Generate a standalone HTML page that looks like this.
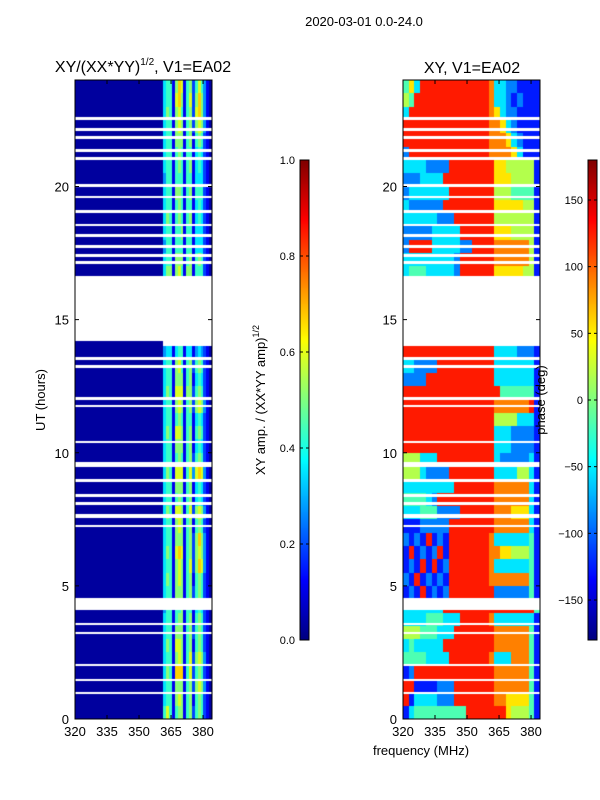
<!DOCTYPE html>
<html><head><meta charset="utf-8">
<style>
body{margin:0;background:#fff;}
#wrap{position:relative;width:600px;height:800px;overflow:hidden;font-family:"Liberation Sans",sans-serif;}
canvas{position:absolute;left:0;top:0;}
svg{position:absolute;left:0;top:0;}
text{font-family:"Liberation Sans",sans-serif;fill:#000;}
</style></head>
<body>
<div id="wrap">
<canvas id="cv" width="600" height="800"></canvas>
<svg id="sv" width="600" height="800"></svg>
</div>
<script>
// ---- data ----
const freqMin = 320, freqMax = 384.2, nAmpCols = 48, ampBrightStart = 31;
const xTicks = [320, 335, 350, 365, 380];
const yTicks = [0, 5, 10, 15, 20];
const ampTicks = [0.0, 0.2, 0.4, 0.6, 0.8, 1.0];
const phaseTicks = [-150, -100, -50, 0, 50, 100, 150];
// amplitude rows, UT 24 -> 0 in half-hour steps, columns 31..47 (digit d -> d*0.08+0.03), '-' = flagged
const ampRows = [
"45516871562575310","45517861572686310","46516751562786310","45516761562676310",
"45516661561565210","45515651551454210","45515651561454210","35515551551444210",
"45516651561555210","45515651551454210","46515651561454210","45515561551444210",
"35515551551444210","45516661561565210","46616751661555210","-----------------",
"-----------------","-----------------","-----------------","-----------------",
"34414551441343210","45516751562565210","45516661561454210","46517771662565210",
"45516761562676310","45515651551454210","46517761561565210","45516661561454210",
"45515651562565210","46517771573787310","45516661561454210","45515651561454210",
"46517761572676310","45516761561565210","45516661562686310","46517871562676310",
"45516761572687310","46516761561565210","45516661562565210","35515561551454210",
"45515661561565210","45516661562565210","46517761561565210","45516761572676310",
"46518881572565210","45516661562676310","45516761561565210","57515661562565210"
];
// phase rows, UT 24 -> 0, 24 columns (digit d -> -162+36d deg), '-' = flagged
const phaseRows = [
"463888888888888733221111","548888888888888733212111","388888888888888763221111","888888888888888776321111",
"888888888888888777632111","288888888888888777763111","333322228888888866555551","222333388888888866655551",
"233333338888888855544441","322222288888888866666551","333333222888888855555551","222223333388888866655551",
"288883333322888877777751","333333333288888877777751","344433333288888866666551","------------------------",
"------------------------","------------------------","------------------------","------------------------",
"888888888888888833332221","332222888888888833333331","222288888888888833333331","888888888888888884444441",
"888888888888888877777781","888888888888888855553331","888888888888888833322221","888888888888888833322221",
"555333888888888832222231","555322228888888833335531","333333333888888877777731","444432888888888877777731",
"333444222288888877766631","111222228888888877777731","212181218888888733333341","181212818888888776655541",
"121818128888888733333341","218121218888888777777741","121812128888888822222241","333333388888888888888884",
"333344433388888733333331","555444333888888877777741","343333388888888877777741","444433338888888733377741",
"128888888888888877777741","881111222888888877777741","813333222888888877666641","134444444448888888655541"
];
// flagged (white) time intervals [start, end] in hours UT
const flagStart = [22.5,22.1,21.8,21.3,21.0,20.0,19.55,19.0,18.5,18.1,17.7,17.35,17.1,14.2,13.5,13.2,12.0,11.7,10.35,9.45,8.9,8.35,8.05,7.55,7.2,4.1,3.55,3.2,2.0,1.45,0.95];
const flagEnd   = [22.6,22.2,21.9,21.4,21.1,20.1,19.65,19.1,18.6,18.2,17.8,17.45,17.2,16.65,13.6,13.3,12.1,11.8,10.45,9.65,9.0,8.45,8.15,7.7,7.3,4.55,3.62,3.27,2.07,1.52,1.02];

// ---- geometry ----
const yTop = 80, yBot = 719;
const L = {x0:75, x1:212}, R = {x0:403, x1:540};
function yT(t){ return yBot - t/24*(yBot-yTop); }
function xF(p,f){ return p.x0 + (f-freqMin)/(freqMax-freqMin)*(p.x1-p.x0); }
function jet(v){ v=Math.max(0,Math.min(1,v)); const c=x=>Math.round(255*Math.max(0,Math.min(1,x)));
  return `rgb(${c(1.5-Math.abs(4*v-3))},${c(1.5-Math.abs(4*v-2))},${c(1.5-Math.abs(4*v-1))})`; }

const cv = document.getElementById('cv'), ctx = cv.getContext('2d');
const nRows = ampRows.length, dt = 24/nRows;
// amplitude heatmap
const dfA = (freqMax-freqMin)/nAmpCols;
for(let r=0;r<nRows;r++){
  const t1 = 24 - r*dt, t0 = t1-dt;
  for(let c=0;c<nAmpCols;c++){
    let ch = c<ampBrightStart ? '0' : ampRows[r][c-ampBrightStart];
    if(ch==='-') continue;
    const v = (+ch)*0.08+0.03;
    ctx.fillStyle = jet(v);
    const xa = Math.round(xF(L,freqMin+c*dfA)), xb = Math.round(xF(L,freqMin+(c+1)*dfA));
    ctx.fillRect(xa, Math.round(yT(t1)), xb-xa, Math.round(yT(t0))-Math.round(yT(t1)));
  }
}
// phase heatmap
const nPh = phaseRows[0].length, dfP = (freqMax-freqMin)/nPh;
for(let r=0;r<nRows;r++){
  const t1 = 24 - r*dt, t0 = t1-dt;
  for(let c=0;c<nPh;c++){
    const ch = phaseRows[r][c]; if(ch==='-') continue;
    const ph = -162 + 36*(+ch);
    ctx.fillStyle = jet((ph+180)/360);
    const xa = Math.round(xF(R,freqMin+c*dfP)), xb = Math.round(xF(R,freqMin+(c+1)*dfP));
    ctx.fillRect(xa, Math.round(yT(t1)), xb-xa, Math.round(yT(t0))-Math.round(yT(t1)));
  }
}
// flags
ctx.fillStyle='#fff';
for(let i=0;i<flagStart.length;i++){
  const ya = Math.round(yT(flagEnd[i])), yb = Math.round(yT(flagStart[i]));
  const h = Math.max(2, yb-ya);
  ctx.fillRect(L.x0, ya, L.x1-L.x0, h);
  ctx.fillRect(R.x0, ya, R.x1-R.x0, h);
}
// colorbars
const cb1 = {x:300,w:9,y0:160,y1:640}, cb2 = {x:588,w:9,y0:160,y1:640};
for(let y=cb1.y0;y<cb1.y1;y++){
  const v = (cb1.y1-y-0.5)/(cb1.y1-cb1.y0);
  ctx.fillStyle = jet(v); ctx.fillRect(cb1.x,y,cb1.w,1);
  ctx.fillStyle = jet(v); ctx.fillRect(cb2.x,y,cb2.w,1);
}

// ---- SVG overlay ----
const sv = document.getElementById('sv'), NS='http://www.w3.org/2000/svg';
function el(tag, attrs, txt){ const e=document.createElementNS(NS,tag); for(const k in attrs) e.setAttribute(k,attrs[k]); if(txt!==undefined) e.textContent=txt; sv.appendChild(e); return e; }

for(const p of [L,R]){
  const fr = el('rect',{x:p.x0,y:yTop,width:p.x1-p.x0,height:yBot-yTop,fill:'none',stroke:'#000','stroke-width':1});
  
  
  for(const f of xTicks){
    const x = xF(p,f);
    el('line',{x1:x,x2:x,y1:yBot,y2:yBot-4,stroke:'#000'});
    el('line',{x1:x,x2:x,y1:yTop,y2:yTop+4,stroke:'#000'});
    const t = el('text',{x:x,y:yBot+17,'font-size':13,'text-anchor':'middle'}, String(f));
    
    
  }
  for(const v of yTicks){
    const y = yT(v);
    el('line',{x1:p.x0,x2:p.x0+4,y1:y,y2:y,stroke:'#000'});
    el('line',{x1:p.x1,x2:p.x1-4,y1:y,y2:y,stroke:'#000'});
    const t = el('text',{x:p.x0-6,y:y+5,'font-size':13,'text-anchor':'end'}, String(v));
    
    
  }
}
for(const [cb,ticks,lo,hi,nm] of [[cb1,ampTicks,0,1,'amp'],[cb2,phaseTicks,-180,180,'phase']]){
  const r = el('rect',{x:cb.x,y:cb.y0,width:cb.w,height:cb.y1-cb.y0,fill:'none',stroke:'#000'});
  
  
  for(const v of ticks){
    const y = cb.y1 - (v-lo)/(hi-lo)*(cb.y1-cb.y0);
    el('line',{x1:cb.x,x2:cb.x+3,y1:y,y2:y,stroke:'#000'});
    el('line',{x1:cb.x+cb.w,x2:cb.x+cb.w-3,y1:y,y2:y,stroke:'#000'});
    const lab = nm==='amp' ? v.toFixed(1) : (v<0?'\u2212'+(-v):String(v));
    const t = el('text',{x:cb.x-5,y:y+4,'font-size':11,'text-anchor':'end'}, lab);
    
    
  }
}
</script>
<svg width="600" height="800" style="position:absolute;left:0;top:0">
<text x="364" y="26" font-size="13" text-anchor="middle">2020-03-01 0.0-24.0</text>
<text x="143" y="72" font-size="16" text-anchor="middle">XY/(XX*YY)<tspan font-size="10" dy="-7">1/2</tspan><tspan dy="7">, V1=EA02</tspan></text>
<text x="472" y="73" font-size="16" text-anchor="middle">XY, V1=EA02</text>
<text transform="translate(45,400) rotate(-90)" font-size="13" text-anchor="middle">UT (hours)</text>
<text x="421" y="755" font-size="13" text-anchor="middle">frequency (MHz)</text>
<text transform="translate(265,400) rotate(-90)" font-size="13" text-anchor="middle">XY amp. / (XX*YY amp)<tspan font-size="9" dy="-6">1/2</tspan></text>
<text transform="translate(545,400) rotate(-90)" font-size="13" text-anchor="middle">phase (deg)</text>
</svg>
</body></html>
